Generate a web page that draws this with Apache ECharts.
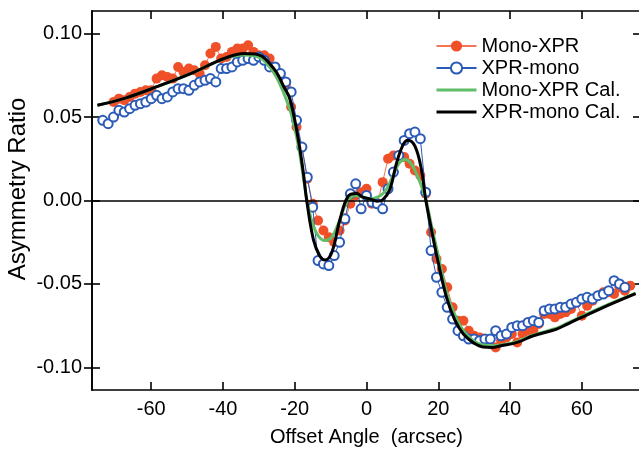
<!DOCTYPE html>
<html>
<head>
<meta charset="utf-8">
<script src="https://cdn.jsdelivr.net/npm/echarts@6/dist/echarts.min.js"></script>
<style>html,body{margin:0;padding:0;background:#fff}#c{width:639px;height:450px}</style>
</head>
<body>
<div id="c"></div>
<script>
const xTicks = [-60, -40, -20, 0, 20, 40, 60];
const yTicks = [-0.10, -0.05, 0.00, 0.05, 0.10];

const monoXprX = [-70.5,-69,-67.5,-66,-64.5,-63,-61.5,-60,-58.5,-57,-55.5,-54,-52.5,-51,-49.5,-48,-46.5,-45,-43.5,-42,-40.5,-39,-37.5,-36,-34.5,-33,-31.5,-30,-28.5,-27,-25.5,-24,-22.5,-21,-19.5,-18,-16.5,-15,-13.5,-12,-10.5,-9,-7.5,-6,-4.5,-3,-1.5,0,1.5,3,4.5,6,7.5,9,10.5,12,13.5,15,16.5,18,19.5,21,22.5,24,25.5,27,28.5,30,31.5,33,34.5,36,37.5,39,40.5,42,43.5,45,46.5,48,49.5,51,52.5,54,55.5,57,58.5,60,61.5,63,64.5,66,67.5,69,70.5,72,73.5];
const monoXprY = [0.059,0.061,0.060,0.062,0.064,0.065,0.066,0.066,0.073,0.075,0.074,0.073,0.080,0.077,0.079,0.078,0.076,0.081,0.088,0.092,0.085,0.086,0.089,0.091,0.091,0.093,0.089,0.087,0.087,0.085,0.080,0.075,0.069,0.056,0.044,0.032,0.013,-0.002,-0.012,-0.018,-0.022,-0.025,-0.018,-0.012,-0.002,0.003,0.005,0.007,-0.002,-0.002,0.011,0.025,0.027,0.027,0.026,0.022,0.018,0.015,0.004,-0.019,-0.035,-0.041,-0.052,-0.064,-0.072,-0.072,-0.078,-0.081,-0.082,-0.083,-0.083,-0.088,-0.084,-0.082,-0.080,-0.085,-0.080,-0.078,-0.078,-0.074,-0.068,-0.068,-0.070,-0.068,-0.067,-0.065,-0.061,-0.069,-0.063,-0.060,-0.057,-0.055,-0.055,-0.056,-0.052,-0.054,-0.051];

const xprMonoX = [-73.5,-72,-70.5,-69,-67.5,-66,-64.5,-63,-61.5,-60,-58.5,-57,-55.5,-54,-52.5,-51,-49.5,-48,-46.5,-45,-43.5,-42,-40.5,-39,-37.5,-36,-34.5,-33,-31.5,-30,-28.5,-27,-25.5,-24,-22.5,-21,-19.5,-18,-16.5,-15,-13.5,-12,-10.5,-9,-7.5,-6,-4.5,-3,-1.5,0,1.5,3,4.5,6,7.5,9,10.5,12,13.5,15,16.5,18,19.5,21,22.5,24,25.5,27,28.5,30,31.5,33,34.5,36,37.5,39,40.5,42,43.5,45,46.5,48,49.5,51,52.5,54,55.5,57,58.5,60,61.5,63,64.5,66,67.5,69,70.5,72];
const xprMonoY = [0.048,0.046,0.050,0.054,0.053,0.055,0.057,0.058,0.059,0.061,0.063,0.061,0.062,0.065,0.067,0.067,0.066,0.069,0.071,0.072,0.073,0.071,0.079,0.079,0.080,0.083,0.084,0.085,0.084,0.086,0.084,0.080,0.080,0.076,0.071,0.065,0.048,0.032,0.014,-0.004,-0.036,-0.038,-0.039,-0.033,-0.025,-0.011,0.004,0.010,-0.005,0.003,-0.001,-0.002,-0.005,0.007,0.017,0.027,0.036,0.040,0.041,0.037,0.005,-0.030,-0.046,-0.055,-0.064,-0.071,-0.078,-0.081,-0.083,-0.083,-0.084,-0.083,-0.083,-0.078,-0.081,-0.080,-0.076,-0.075,-0.075,-0.073,-0.072,-0.073,-0.066,-0.065,-0.065,-0.064,-0.064,-0.062,-0.061,-0.059,-0.058,-0.059,-0.057,-0.056,-0.054,-0.048,-0.050,-0.052];

const monoXprCalX = [-75,-67,-58,-48.5,-39.5,-34,-31,-29,-27,-25,-23,-21,-19,-17.6,-16.5,-15,-13.5,-11.6,-9.7,-7.5,-5.5,-3,-1,1,3,5,7,9,10.7,12.5,14.5,16.5,18.1,20,22.3,24.5,27,30,32.5,35,37.5,42,46.5,53,56,65,75];
const monoXprCalY = [0.057,0.0615,0.0685,0.0765,0.085,0.0872,0.0865,0.0845,0.080,0.0735,0.064,0.052,0.033,0.014,-0.001,-0.014,-0.021,-0.024,-0.022,-0.012,-0.001,0.003,0.002,0.001,0.002,0.005,0.013,0.022,0.0246,0.022,0.013,0.001,-0.015,-0.033,-0.055,-0.068,-0.078,-0.0845,-0.0865,-0.087,-0.0865,-0.0845,-0.0805,-0.0765,-0.0735,-0.0645,-0.0555];

const xprMonoCalX = [-75,-67,-58,-48.5,-39.5,-34,-31,-29,-27,-25,-23,-21.3,-19,-17.6,-16.7,-14.8,-13,-11.6,-9.7,-7.4,-5.1,-2.8,-1,0.9,3,4.6,6.5,8.4,10.2,11.6,13.5,15.3,16.5,18.1,20,22.3,24.5,27,30,32.5,35,37.5,42,46.5,53,56,65,75];
const xprMonoCalY = [0.057,0.0615,0.0685,0.0765,0.0852,0.088,0.0878,0.0862,0.082,0.0765,0.068,0.0605,0.0365,0.0166,0.0006,-0.0234,-0.0333,-0.0357,-0.0313,-0.0114,0.0026,0.0042,0.002,0.001,-0.0004,0.0006,0.0066,0.0226,0.0335,0.0361,0.0325,0.0186,0.0006,-0.0174,-0.0373,-0.058,-0.071,-0.080,-0.0855,-0.0878,-0.088,-0.087,-0.085,-0.081,-0.077,-0.074,-0.065,-0.0558];

const yAxisTitle = 'Asymmetry Ratio';

const pairs = (xs, ys) => xs.map((x, i) => [x, ys[i]]);

const RED = '#F05028', BLUE = '#2C5BB7', GREEN = '#62BD69', BLACK = '#000';
const FONT = 'Liberation Sans';

const chart = echarts.init(document.getElementById('c'), null, {renderer: 'canvas'});
const axisLine = {show: true, onZero: false, lineStyle: {color: '#000', width: 1.6}};
chart.setOption({
  animation: false,
  textStyle: {fontFamily: FONT},
  grid: {left: 92, top: 11, right: -2, bottom: 60, containLabel: false, outerBoundsMode: 'none'},
  graphic: [{
    type: 'text', x: 18, y: 189, rotation: Math.PI / 2,
    style: {text: yAxisTitle, font: '24px "Liberation Sans"', fill: '#000', align: 'center', verticalAlign: 'middle'}
  }],
  legend: {
    left: 430, top: 31, orient: 'vertical', itemGap: 2,
    itemWidth: 40, itemHeight: 14,
    textStyle: {fontFamily: FONT, fontSize: 20, color: '#000', lineHeight: 20},
    data: [
      {name: 'Mono-XPR', itemStyle: {color: RED}},
      {name: 'XPR-mono'},
      {name: 'Mono-XPR Cal.', itemStyle: {opacity: 0}, lineStyle: {width: 3, color: GREEN}},
      {name: 'XPR-mono Cal.', itemStyle: {opacity: 0}, lineStyle: {width: 3, color: BLACK}}
    ]
  },
  xAxis: [{
    type: 'value', min: -76.5, max: 76.5, position: 'bottom',
    name: 'Offset Angle  (arcsec)', nameLocation: 'middle', nameGap: 37,
    nameTextStyle: {fontFamily: FONT, fontSize: 20, color: '#000'},
    axisLine: axisLine,
    axisTick: {show: true, inside: true, length: 8, lineStyle: {color: '#000', width: 1.6}, customValues: xTicks},
    axisLabel: {show: true, margin: 9, fontFamily: FONT, fontSize: 20, color: '#000', customValues: xTicks,
      formatter: v => String(v)},
    splitLine: {show: false}
  }, {
    type: 'value', min: -76.5, max: 76.5, position: 'top',
    axisLine: axisLine,
    axisTick: {show: true, inside: true, length: 8, lineStyle: {color: '#000', width: 1.6}, customValues: xTicks},
    axisLabel: {show: false}, splitLine: {show: false}
  }],
  yAxis: [{
    type: 'value', min: -0.1135, max: 0.1135, position: 'left',
    axisLine: axisLine,
    axisTick: {show: true, inside: true, length: 8, lineStyle: {color: '#000', width: 1.6}, customValues: yTicks},
    axisLabel: {show: true, margin: 10, fontFamily: FONT, fontSize: 20, color: '#000', customValues: yTicks,
      formatter: v => v.toFixed(2)},
    splitLine: {show: false}
  }, {
    type: 'value', min: -0.1135, max: 0.1135, position: 'left',
    axisLine: axisLine,
    axisTick: {show: true, inside: false, length: 8, lineStyle: {color: '#000', width: 1.6}, customValues: yTicks},
    axisLabel: {show: false}, splitLine: {show: false}
  }, {
    type: 'value', min: -0.1135, max: 0.1135, position: 'right',
    axisLine: axisLine,
    axisTick: {show: true, inside: true, length: 8, lineStyle: {color: '#000', width: 1.6}, customValues: yTicks},
    axisLabel: {show: false}, splitLine: {show: false}
  }],
  series: [{
    name: 'Mono-XPR', type: 'line', data: pairs(monoXprX, monoXprY),
    symbol: 'circle', symbolSize: 10, showAllSymbol: true,
    itemStyle: {color: RED},
    lineStyle: {color: RED, width: 1, opacity: 0.8},
    markLine: {silent: true, symbol: 'none', label: {show: false},
      lineStyle: {color: '#000', width: 1.6, type: 'solid'}, data: [{yAxis: 0}]},
    z: 2
  }, {
    name: 'XPR-mono', type: 'line', data: pairs(xprMonoX, xprMonoY),
    symbol: 'emptyCircle', symbolSize: 9, showAllSymbol: true,
    itemStyle: {color: BLUE, borderWidth: 1.6},
    lineStyle: {color: BLUE, width: 1},
    z: 3
  }, {
    name: 'Mono-XPR Cal.', type: 'line', data: pairs(monoXprCalX, monoXprCalY),
    symbol: 'none', smooth: 0.4,
    itemStyle: {color: GREEN},
    lineStyle: {color: GREEN, width: 3},
    z: 4
  }, {
    name: 'XPR-mono Cal.', type: 'line', data: pairs(xprMonoCalX, xprMonoCalY),
    symbol: 'none', smooth: 0.4,
    itemStyle: {color: BLACK},
    lineStyle: {color: BLACK, width: 3},
    z: 5
  }]
});
</script>
</body>
</html>
